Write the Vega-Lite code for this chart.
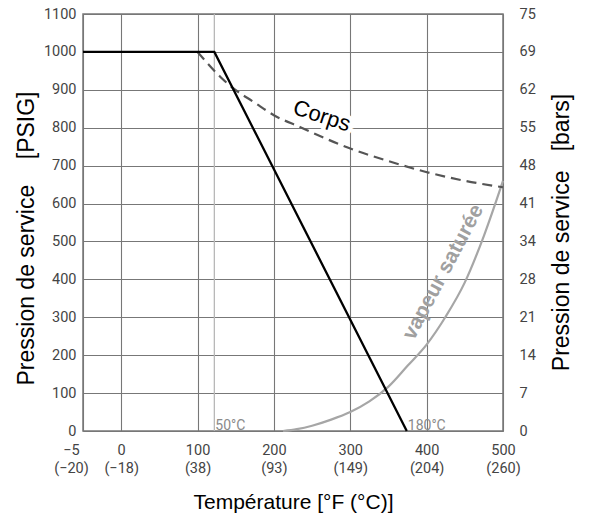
{
  "$schema": "https://vega.github.io/schema/vega-lite/v6.json",
  "width": 420,
  "height": 417,
  "autosize": {"type": "none"},
  "padding": {"left": 83, "top": 14, "right": 87, "bottom": 89},
  "background": "white",
  "config": {
    "view": {"stroke": "#777777", "strokeWidth": 1.5},
    "axis": {
      "gridColor": "#777777",
      "gridWidth": 1.1,
      "gridOpacity": 1,
      "domain": false,
      "ticks": false,
      "labelFont": "Roboto, sans-serif",
      "labelFontSize": 14.5,
      "labelColor": "#444444",
      "labelOverlap": false,
      "titleFont": "Liberation Sans, Arial, sans-serif",
      "titleFontSize": 23,
      "titleFontWeight": "normal",
      "titleColor": "#000000"
    }
  },
  "datasets": {
    "curves": [
      {"series": "lim", "T": -50, "P": 1000},
      {"series": "lim", "T": 122, "P": 1000},
      {"series": "lim", "T": 374, "P": 0},
      {"series": "corps", "T": 100, "P": 1000},
      {"series": "corps", "T": 130, "P": 934},
      {"series": "corps", "T": 143, "P": 910},
      {"series": "corps", "T": 175, "P": 866},
      {"series": "corps", "T": 200, "P": 833},
      {"series": "corps", "T": 234, "P": 802},
      {"series": "corps", "T": 300, "P": 745},
      {"series": "corps", "T": 350, "P": 712},
      {"series": "corps", "T": 398, "P": 684},
      {"series": "corps", "T": 450, "P": 660},
      {"series": "corps", "T": 500, "P": 643},
      {"series": "vap", "T": 212, "P": 0},
      {"series": "vap", "T": 230, "P": 5},
      {"series": "vap", "T": 250, "P": 14},
      {"series": "vap", "T": 275, "P": 30},
      {"series": "vap", "T": 300, "P": 50},
      {"series": "vap", "T": 325, "P": 78},
      {"series": "vap", "T": 350, "P": 117},
      {"series": "vap", "T": 375, "P": 172},
      {"series": "vap", "T": 400, "P": 228},
      {"series": "vap", "T": 425, "P": 302},
      {"series": "vap", "T": 450, "P": 392},
      {"series": "vap", "T": 475, "P": 515},
      {"series": "vap", "T": 500, "P": 660}
    ],
    "refs": [
      {"T": 122, "P": 0, "label": "50°C"},
      {"T": 374, "P": 0, "label": "180°C"}
    ],
    "notes": [
      {"T": 262.8, "P": 831, "text": "Corps"},
      {"T": 422, "P": 419, "text": "vapeur saturée"}
    ]
  },
  "layer": [
    {
      "data": {"name": "curves"},
      "mark": {"type": "point", "opacity": 0},
      "encoding": {
        "x": {
          "field": "T", "type": "quantitative",
          "scale": {"domain": [-50, 500], "nice": false, "zero": false},
          "axis": {
            "values": [-50, 0, 100, 200, 300, 400, 500],
            "labelExpr": "datum.value < 0 ? ['\u22125', '(\u221220)'] : [['0', '(\u221218)'], ['100', '(38)'], ['200', '(93)'], ['300', '(149)'], ['400', '(204)'], ['500', '(260)']][round(datum.value / 100)]",
            "labelOffset": {"condition": {"test": "datum.value < 0", "value": -12}, "value": 0},
            "labelPadding": 12,
            "labelLineHeight": 18,
            "labelOverlap": false,
            "labelFlush": false,
            "grid": true,
            "title": "Température [°F (°C)]",
            "titleFontSize": 21,
            "titleX": 210,
            "titleY": 77,
            "titleAlign": "center",
            "titleBaseline": "alphabetic"
          }
        },
        "y": {
          "field": "P", "type": "quantitative",
          "scale": {"domain": [0, 1100], "nice": false, "zero": true},
          "axis": {
            "orient": "left",
            "values": [0, 100, 200, 300, 400, 500, 600, 700, 800, 900, 1000, 1100],
            "labelExpr": "'' + datum.value",
            "labelOverlap": false,
            "labelPadding": 7,
            "grid": true,
            "title": "Pression de service\u00a0\u00a0\u00a0\u00a0[PSIG]",
            "titleAngle": -90,
            "titleX": -50,
            "titleY": 224,
            "titleAlign": "center",
            "titleBaseline": "alphabetic"
          }
        }
      }
    },
    {
      "layer": [
        {
          "data": {"name": "refs"},
          "transform": [{"filter": "datum.T == 122"}],
          "mark": {"type": "rule", "color": "#b8b8b8", "strokeWidth": 1.3},
          "encoding": {
            "x": {"field": "T", "type": "quantitative"}
          }
        },
        {
          "data": {"name": "notes"},
          "transform": [{"filter": "datum.text == 'Corps'"}],
          "mark": {"type": "text", "font": "Liberation Sans, Arial, sans-serif", "fontSize": 22, "angle": 18, "align": "center", "baseline": "middle", "fill": "white", "stroke": "white", "strokeWidth": 9},
          "encoding": {
            "x": {"field": "T", "type": "quantitative"},
            "y": {"field": "P", "type": "quantitative", "axis": null, "scale": {"domain": [0, 1100], "nice": false, "zero": true}},
            "text": {"field": "text"}
          }
        },
        {
          "data": {"name": "curves"},
          "transform": [{"filter": "datum.series == 'vap'"}],
          "mark": {"type": "line", "color": "#a6a6a6", "strokeWidth": 2.2, "interpolate": "monotone"},
          "encoding": {
            "x": {"field": "T", "type": "quantitative"},
            "y": {"field": "P", "type": "quantitative", "axis": null}
          }
        },
        {
          "data": {"name": "curves"},
          "transform": [{"filter": "datum.series == 'corps'"}],
          "mark": {"type": "line", "color": "#555555", "strokeWidth": 2.2, "strokeDash": [10, 6], "interpolate": "monotone"},
          "encoding": {
            "x": {"field": "T", "type": "quantitative"},
            "y": {"field": "P", "type": "quantitative", "axis": null}
          }
        },
        {
          "data": {"name": "curves"},
          "transform": [{"filter": "datum.series == 'lim'"}],
          "mark": {"type": "line", "color": "#000000", "strokeWidth": 2.3},
          "encoding": {
            "x": {"field": "T", "type": "quantitative"},
            "y": {"field": "P", "type": "quantitative", "axis": null}
          }
        },
        {
          "data": {"name": "notes"},
          "transform": [{"filter": "datum.text == 'Corps'"}],
          "mark": {"type": "text", "font": "Liberation Sans, Arial, sans-serif", "fontSize": 22, "angle": 18, "align": "center", "baseline": "middle", "color": "#000000"},
          "encoding": {
            "x": {"field": "T", "type": "quantitative"},
            "y": {"field": "P", "type": "quantitative", "axis": null},
            "text": {"field": "text"}
          }
        },
        {
          "data": {"name": "notes"},
          "transform": [{"filter": "datum.text != 'Corps'"}],
          "mark": {"type": "text", "font": "Liberation Sans, Arial, sans-serif", "fontSize": 21, "fontWeight": "bold", "angle": -62, "align": "center", "baseline": "middle", "color": "#a0a0a0"},
          "encoding": {
            "x": {"field": "T", "type": "quantitative"},
            "y": {"field": "P", "type": "quantitative", "axis": null},
            "text": {"field": "text"}
          }
        },
        {
          "data": {"name": "refs"},
          "mark": {"type": "text", "font": "Roboto, sans-serif", "fontSize": 14, "align": "left", "baseline": "alphabetic", "dx": 1, "dy": -1, "color": "#8a8a8a"},
          "encoding": {
            "x": {"field": "T", "type": "quantitative"},
            "y": {"field": "P", "type": "quantitative", "axis": null},
            "text": {"field": "label"}
          }
        }
      ]
    },
    {
      "data": {"name": "curves"},
      "mark": {"type": "point", "opacity": 0},
      "encoding": {
        "x": {"field": "T", "type": "quantitative"},
        "y": {
          "field": "P", "type": "quantitative",
          "scale": {"domain": [0, 1100], "nice": false, "zero": true},
          "axis": {
            "orient": "right",
            "values": [0, 100, 200, 300, 400, 500, 600, 700, 800, 900, 1000, 1100],
            "labelExpr": "['0', '7', '14', '21', '28', '34', '41', '48', '55', '62', '69', '75'][round(datum.value / 100)]",
            "labelOverlap": false,
            "labelPadding": 16,
            "grid": false,
            "title": "Pression de service\u00a0\u00a0\u00a0[bars]",
            "titleAngle": -90,
            "titleX": 65,
            "titleY": 218,
            "titleAlign": "center",
            "titleBaseline": "alphabetic"
          }
        }
      }
    }
  ],
  "resolve": {"scale": {"y": "independent"}}
}
